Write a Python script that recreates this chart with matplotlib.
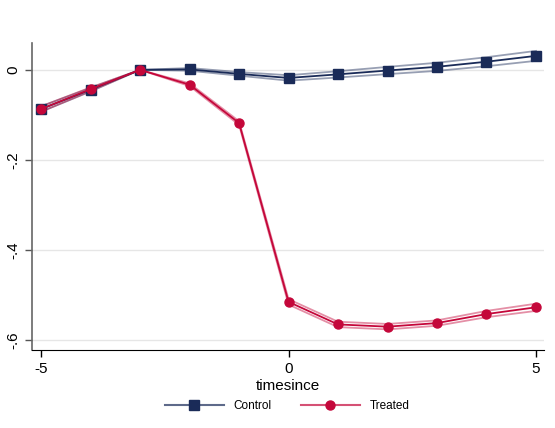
import matplotlib
matplotlib.use("Agg")
import matplotlib.pyplot as plt
from matplotlib.lines import Line2D
from matplotlib.colors import to_rgba

plt.rcParams['font.family'] = ['Liberation Sans', 'DejaVu Sans']

# dados
timesince = [-5, -4, -3, -2, -1, 0, 1, 2, 3, 4, 5]
control = [-0.087, -0.044, 0.0, 0.001, -0.009, -0.018, -0.010, -0.0015, 0.0067, 0.018, 0.031]
control_ci = [0.006, 0.004, 0.0, 0.003, 0.004, 0.006, 0.007, 0.008, 0.009, 0.010, 0.011]
treated = [-0.087, -0.043, 0.0, -0.033, -0.118, -0.515, -0.565, -0.570, -0.562, -0.542, -0.527]
treated_ci = [0.006, 0.004, 0.0, 0.003, 0.004, 0.006, 0.006, 0.006, 0.006, 0.007, 0.008]

navy = '#1a2b58'
red = '#c4073a'

fig = plt.figure(figsize=(5.55, 4.28), dpi=100)
ax = fig.add_axes([0.058, 0.182, 0.922, 0.718])

for y in [0, -0.2, -0.4, -0.6]:
    ax.axhline(y, color='#e6e6e6', lw=1, zorder=0)

for vals, ci, col, mk in [(control, control_ci, navy, 's'), (treated, treated_ci, red, 'o')]:
    hi = [v + c for v, c in zip(vals, ci)]
    lo = [v - c for v, c in zip(vals, ci)]
    ax.plot(timesince, hi, color=col, lw=1.3, alpha=0.45, zorder=2)
    ax.plot(timesince, lo, color=col, lw=1.3, alpha=0.45, zorder=2)
    ax.plot(timesince, vals, color=col, lw=1.3, marker=mk, ms=6.5, zorder=3)

ax.set_xlim(-5.18, 5.16)
ax.set_ylim(-0.622, 0.06)
ax.set_xticks([-5, 0, 5])
ax.set_xticklabels(['-5', '0', '5'])
ax.set_yticks([0, -0.2, -0.4, -0.6])
ax.set_yticklabels(['0', '-.2', '-.4', '-.6'], rotation=90, va='center')
ax.tick_params(labelsize=11, length=5, width=1)
ax.tick_params(axis='y', colors='#555555', labelcolor='black')
ax.set_xlabel('timesince', fontsize=11, labelpad=2)

ax.spines['top'].set_visible(False)
ax.spines['right'].set_visible(False)
ax.spines['left'].set_color('#666666')
ax.spines['left'].set_linewidth(1.2)
ax.spines['bottom'].set_color('black')

handles = [
    Line2D([], [], color=to_rgba(navy, 0.7), lw=1.5, marker='s', ms=6.5, mfc=navy, mec=navy),
    Line2D([], [], color=to_rgba(red, 0.7), lw=1.5, marker='o', ms=6.5, mfc=red, mec=red),
]
fig.legend(handles, ['Control', 'Treated'], loc='center', bbox_to_anchor=(0.517, 0.051),
           ncol=2, frameon=False, fontsize=8.5, handlelength=5, columnspacing=2.5)

fig.savefig('out.png', dpi=100)
